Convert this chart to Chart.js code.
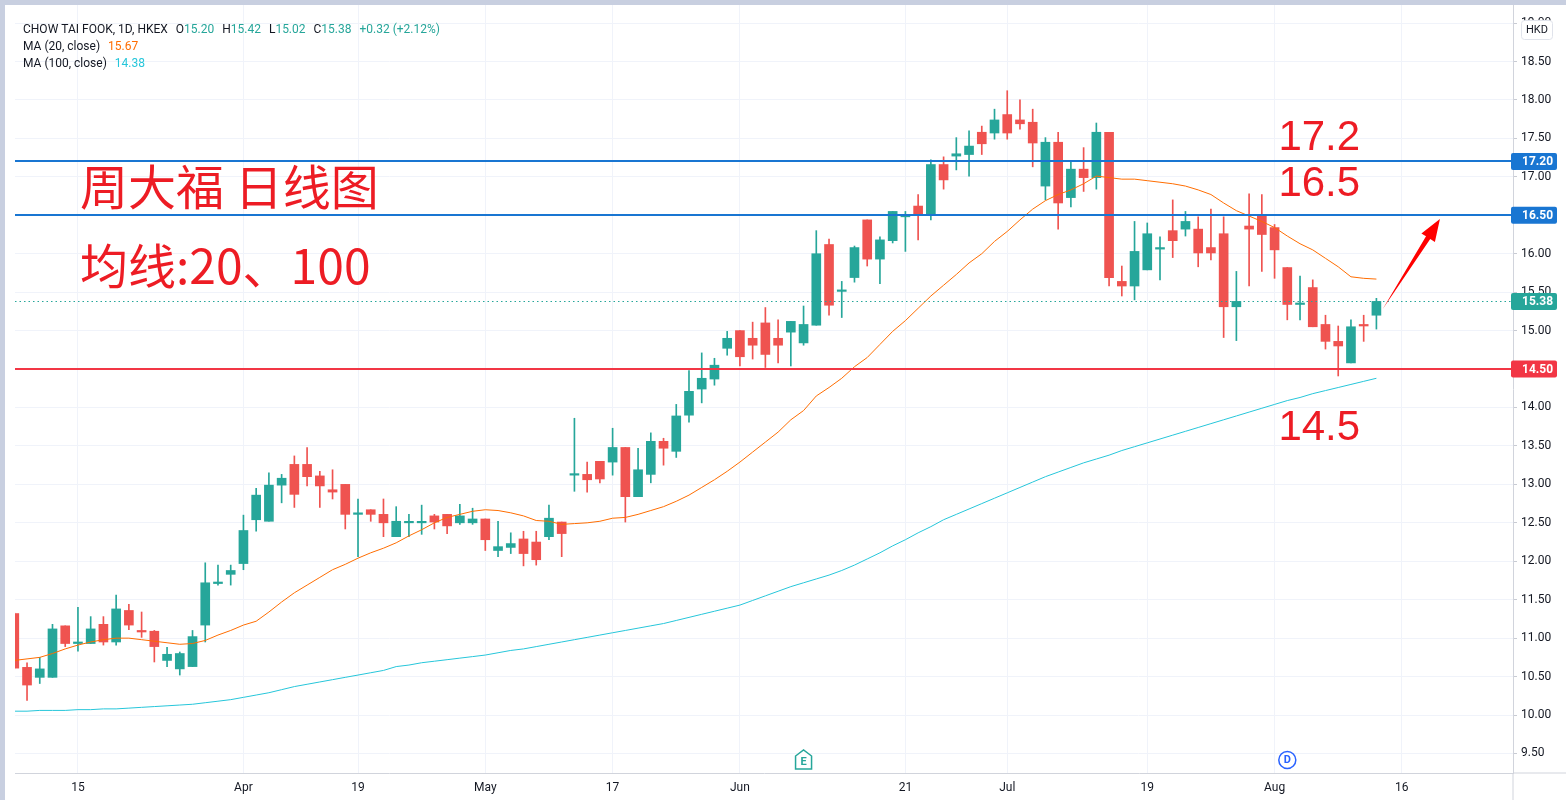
<!DOCTYPE html>
<html>
<head>
<meta charset="utf-8">
<title>CHOW TAI FOOK 1D</title>
<script src="https://cdn.jsdelivr.net/npm/chart.js@4.4.1/dist/chart.umd.min.js"></script>
<style>
  html, body { margin: 0; padding: 0; background: #c8cfe0; }
  #wrap { position: absolute; left: 5px; top: 5px; width: 1561px; height: 795px; background: #fff; }
  canvas { display: block; }
</style>
</head>
<body>
<div id="wrap"><canvas id="chart" width="1561" height="795"></canvas></div>
<script>
// daily candles, 8 Mar - 12 Aug 2021 (one entry per trading day)
const opens = [
  11.32, 10.62, 10.49, 10.49, 11.16, 10.93, 10.93, 11.18, 10.95, 11.36,
  11.10, 11.09, 10.71, 10.60, 10.63, 11.17, 11.71, 11.83, 11.97, 12.54,
  12.52, 12.99, 13.26, 13.26, 13.11, 12.93, 13.00, 12.61, 12.67, 12.61,
  12.32, 12.50, 12.50, 12.59, 12.61, 12.50, 12.50, 12.55, 12.14, 12.18,
  12.29, 12.25, 12.32, 12.51, 13.12, 13.13, 13.30, 13.29, 13.48, 12.84,
  13.13, 13.56, 13.43, 13.90, 14.24, 14.37, 14.77, 15.00, 14.90, 15.10,
  14.90, 14.98, 14.84, 15.07, 16.12, 15.51, 15.69, 16.44, 15.93, 16.17,
  16.48, 16.62, 16.51, 17.16, 17.27, 17.29, 17.58, 17.57, 17.81, 17.74,
  17.71, 16.88, 17.45, 16.73, 17.10, 16.99, 17.58, 15.64, 15.58, 15.79,
  16.06, 16.30, 16.32, 16.32, 16.08, 16.26, 15.31, 16.36, 16.51, 16.34,
  15.82, 15.34, 15.56, 15.08, 14.86, 14.58, 15.08, 15.20
];
const highs = [
  11.33, 10.68, 10.75, 11.18, 11.16, 11.40, 11.28, 11.28, 11.56, 11.44,
  11.34, 11.10, 10.88, 10.82, 11.10, 11.98, 11.95, 11.95, 12.60, 12.95,
  13.15, 13.13, 13.37, 13.48, 13.17, 13.19, 13.00, 12.81, 12.67, 12.81,
  12.71, 12.61, 12.73, 12.61, 12.61, 12.74, 12.69, 12.55, 12.52, 12.37,
  12.39, 12.39, 12.73, 12.51, 13.86, 13.29, 13.30, 13.73, 13.48, 13.47,
  13.67, 13.60, 14.04, 14.48, 14.71, 14.64, 14.99, 15.00, 15.11, 15.30,
  15.14, 15.12, 15.32, 16.30, 16.19, 15.64, 16.10, 16.44, 16.22, 16.55,
  16.55, 16.77, 17.22, 17.26, 17.51, 17.60, 17.66, 17.88, 18.12, 18.00,
  17.88, 17.51, 17.58, 17.19, 17.38, 17.70, 17.58, 15.84, 16.42, 16.40,
  16.22, 16.70, 16.55, 16.48, 16.58, 16.48, 15.77, 16.78, 16.77, 16.38,
  15.82, 15.71, 15.66, 15.20, 15.06, 15.14, 15.20, 15.42
];
const lows = [
  10.60, 10.19, 10.41, 10.49, 10.89, 10.83, 10.93, 10.91, 10.91, 11.11,
  11.01, 10.69, 10.63, 10.52, 10.63, 10.95, 11.69, 11.69, 11.89, 12.39,
  12.52, 12.76, 12.70, 12.98, 12.70, 12.81, 12.42, 12.06, 12.52, 12.32,
  12.32, 12.32, 12.35, 12.42, 12.36, 12.48, 12.48, 12.14, 12.06, 12.10,
  11.94, 11.95, 12.28, 12.06, 12.91, 12.90, 13.02, 13.12, 12.51, 12.84,
  13.02, 13.25, 13.35, 13.81, 14.06, 14.29, 14.68, 14.54, 14.63, 14.52,
  14.58, 14.54, 14.81, 15.07, 15.20, 15.17, 15.63, 15.84, 15.61, 16.14,
  16.03, 16.18, 16.44, 16.84, 17.09, 17.01, 17.29, 17.49, 17.49, 17.62,
  17.13, 16.70, 16.32, 16.61, 16.81, 16.84, 15.58, 15.45, 15.40, 15.79,
  15.66, 15.95, 16.23, 15.83, 15.92, 14.91, 14.87, 15.58, 15.77, 15.68,
  15.14, 15.14, 15.05, 14.76, 14.41, 14.58, 14.86, 15.02
];
const closes = [
  10.61, 10.39, 10.60, 11.12, 10.93, 10.95, 11.12, 10.95, 11.38, 11.17,
  11.08, 10.89, 10.79, 10.80, 11.02, 11.72, 11.73, 11.88, 12.40, 12.86,
  12.99, 13.08, 12.87, 13.10, 12.98, 12.90, 12.61, 12.63, 12.61, 12.50,
  12.52, 12.51, 12.51, 12.51, 12.46, 12.59, 12.55, 12.28, 12.19, 12.23,
  12.10, 12.02, 12.56, 12.36, 13.13, 13.06, 13.07, 13.48, 12.84, 13.19,
  13.56, 13.47, 13.89, 14.21, 14.38, 14.55, 14.90, 14.66, 14.81, 14.69,
  14.81, 15.12, 15.08, 16.00, 15.33, 15.52, 16.08, 15.93, 16.18, 16.55,
  16.51, 16.51, 17.16, 16.96, 17.30, 17.40, 17.43, 17.74, 17.57, 17.69,
  17.44, 17.45, 16.66, 17.10, 16.99, 17.58, 15.69, 15.58, 16.03, 16.26,
  16.08, 16.17, 16.42, 16.01, 16.01, 15.31, 15.38, 16.32, 16.25, 16.05,
  15.34, 15.35, 15.05, 14.86, 14.80, 15.05, 15.06, 15.38
];
const ma20 = [
  10.71, 10.73, 10.75, 10.80, 10.86, 10.91, 10.95, 10.98, 11.00, 11.00,
  10.98, 10.96, 10.94, 10.92, 10.93, 10.97, 11.04, 11.10, 11.17, 11.22,
  11.34, 11.47, 11.59, 11.69, 11.79, 11.89, 11.96, 12.04, 12.11, 12.17,
  12.24, 12.33, 12.41, 12.50, 12.57, 12.61, 12.65, 12.67, 12.66, 12.63,
  12.59, 12.53, 12.52, 12.48, 12.49, 12.50, 12.52, 12.56, 12.57, 12.61,
  12.66, 12.71, 12.78, 12.86, 12.96, 13.06, 13.17, 13.29, 13.42, 13.55,
  13.68, 13.84, 13.96, 14.15, 14.26, 14.38, 14.53, 14.65, 14.82, 14.99,
  15.13, 15.29, 15.45, 15.59, 15.73, 15.88, 16.00, 16.16, 16.29, 16.44,
  16.58, 16.69, 16.77, 16.83, 16.91, 17.01, 16.99, 16.97, 16.97, 16.95,
  16.93, 16.91, 16.88, 16.83, 16.77, 16.66, 16.56, 16.49, 16.42, 16.34,
  16.23, 16.13, 16.05, 15.94, 15.83, 15.70, 15.68, 15.67
];
const ma100 = [
  10.05, 10.05, 10.06, 10.06, 10.06, 10.07, 10.07, 10.08, 10.08, 10.09,
  10.10, 10.11, 10.12, 10.13, 10.14, 10.16, 10.18, 10.20, 10.23, 10.26,
  10.29, 10.33, 10.37, 10.40, 10.43, 10.46, 10.49, 10.52, 10.55, 10.58,
  10.63, 10.65, 10.68, 10.70, 10.72, 10.74, 10.76, 10.78, 10.81, 10.84,
  10.86, 10.89, 10.92, 10.95, 10.98, 11.01, 11.04, 11.07, 11.10, 11.13,
  11.16, 11.19, 11.23, 11.27, 11.31, 11.35, 11.39, 11.43, 11.49, 11.55,
  11.61, 11.67, 11.72, 11.77, 11.82, 11.88, 11.95, 12.03, 12.11, 12.20,
  12.28, 12.37, 12.45, 12.54, 12.61, 12.68, 12.75, 12.82, 12.89, 12.96,
  13.03, 13.10, 13.16, 13.22, 13.28, 13.33, 13.38, 13.44, 13.49, 13.54,
  13.59, 13.64, 13.69, 13.74, 13.79, 13.84, 13.89, 13.94, 13.99, 14.04,
  14.09, 14.13, 14.18, 14.22, 14.26, 14.30, 14.34, 14.38
];

// time axis: bar index of each label
const tickPos = [5, 18, 27, 37, 47, 57, 70, 78, 89, 99, 109];
const tickLabels = ['15', 'Apr', '19', 'May', '17', 'Jun', '21', 'Jul', '19', 'Aug', '16'];
const yTicks = [9.5, 10, 10.5, 11, 11.5, 12, 12.5, 13, 13.5, 14, 14.5, 15, 15.5, 16, 16.5, 17, 17.5, 18, 18.5, 19];

// horizontal levels drawn on the chart
const levels = [17.2, 16.5, 14.5];
const levelColors = ['#1976d2', '#1976d2', '#f23645'];
const levelNotes = ['17.2', '16.5', '14.5'];

const earningsBar = 62;
const dividendBar = 100;

const UP = '#26a69a';
const DOWN = '#ef5350';
const MA20_COLOR = '#ff6d00';
const MA100_COLOR = '#26c6da';
const TEXT = '#131722';
const NOTE_RED = '#ed1c24';
const UI_FONT = 'Roboto, "Liberation Sans", sans-serif';

const last = closes.length - 1;
const candleColors = closes.map((c, i) => c >= opens[i] ? UP : DOWN);
const bodies = closes.map((c, i) => ({ x: i, y: [opens[i], c] }));
const wicks = closes.map((c, i) => ({ x: i, y: [lows[i], highs[i]] }));

function roundRect(ctx, x, y, w, h, r) {
  ctx.beginPath();
  ctx.moveTo(x + r, y);
  ctx.arcTo(x + w, y, x + w, y + h, r);
  ctx.arcTo(x + w, y + h, x, y + h, r);
  ctx.arcTo(x, y + h, x, y, r);
  ctx.arcTo(x, y, x + w, y, r);
  ctx.closePath();
}

const drawings = {
  id: 'drawings',
  afterDatasetsDraw(chart) {
    const { ctx, chartArea: a, scales: { x, y } } = chart;
    ctx.save();
    ctx.beginPath();
    ctx.rect(a.left, a.top, a.right - a.left, a.bottom - a.top);
    ctx.clip();

    // last price
    const py0 = Math.round(y.getPixelForValue(closes[last])) + 0.5;
    ctx.strokeStyle = UP;
    ctx.lineWidth = 1;
    ctx.setLineDash([1.5, 3]);
    ctx.beginPath();
    ctx.moveTo(a.left, py0);
    ctx.lineTo(a.right, py0);
    ctx.stroke();
    ctx.setLineDash([]);

    levels.forEach((v, k) => {
      const py = Math.round(y.getPixelForValue(v));
      ctx.strokeStyle = levelColors[k];
      ctx.lineWidth = 2;
      ctx.beginPath();
      ctx.moveTo(a.left, py);
      ctx.lineTo(a.right, py);
      ctx.stroke();
    });

    // text notes
    ctx.fillStyle = NOTE_RED;
    ctx.textAlign = 'left';
    ctx.textBaseline = 'alphabetic';
    ctx.font = '48px "Noto Sans CJK SC"';
    ctx.fillText('周大福 日线图', x.getPixelForValue(5.16), y.getPixelForValue(16.63));
    ctx.fillText('均线:20、100', x.getPixelForValue(5.16), y.getPixelForValue(15.61));

    ctx.font = '42px "Liberation Sans"';
    const noteBase = [17.35, 16.75, 13.58];
    levelNotes.forEach((t, k) => {
      ctx.fillText(t, x.getPixelForValue(99.3), y.getPixelForValue(noteBase[k]));
    });

    // arrow
    const tx = x.getPixelForValue(107.5), ty = y.getPixelForValue(15.28);
    const hx = x.getPixelForValue(111.99), hy = y.getPixelForValue(16.45);
    const dx = hx - tx, dy = hy - ty, len = Math.hypot(dx, dy);
    const ux = dx / len, uy = dy / len, nx = -uy, ny = ux;
    const bx = hx - ux * 22, by = hy - uy * 22;
    ctx.fillStyle = '#ff0000';
    ctx.beginPath();
    ctx.moveTo(tx, ty);
    ctx.lineTo(bx + nx * 2.5, by + ny * 2.5);
    ctx.lineTo(bx + nx * 8, by + ny * 8);
    ctx.lineTo(hx, hy);
    ctx.lineTo(bx - nx * 8, by - ny * 8);
    ctx.lineTo(bx - nx * 2.5, by - ny * 2.5);
    ctx.closePath();
    ctx.fill();

    // earnings / dividend markers
    const ex = x.getPixelForValue(earningsBar), eb = a.bottom - 4, et = a.bottom - 23;
    ctx.fillStyle = '#fff';
    ctx.strokeStyle = UP;
    ctx.lineWidth = 1.5;
    ctx.beginPath();
    ctx.moveTo(ex - 8, eb);
    ctx.lineTo(ex + 8, eb);
    ctx.lineTo(ex + 8, et + 6);
    ctx.lineTo(ex, et);
    ctx.lineTo(ex - 8, et + 6);
    ctx.closePath();
    ctx.fill();
    ctx.stroke();
    ctx.fillStyle = UP;
    ctx.font = 'bold 11px ' + UI_FONT;
    ctx.textAlign = 'center';
    ctx.textBaseline = 'middle';
    ctx.fillText('E', ex, eb - 7);

    const dxp = x.getPixelForValue(dividendBar), dyp = a.bottom - 13;
    ctx.fillStyle = '#fff';
    ctx.strokeStyle = '#2962ff';
    ctx.beginPath();
    ctx.arc(dxp, dyp, 8.5, 0, Math.PI * 2);
    ctx.fill();
    ctx.stroke();
    ctx.fillStyle = '#2962ff';
    ctx.fillText('D', dxp, dyp + 0.5);
    ctx.restore();
  },
  afterDraw(chart) {
    const { ctx, chartArea: a, scales: { y }, width, height } = chart;
    ctx.save();
    // axis lines running into the corner
    ctx.strokeStyle = '#d1d4dc';
    ctx.lineWidth = 1;
    ctx.beginPath();
    ctx.moveTo(a.right, height);
    ctx.lineTo(a.right, a.bottom);
    ctx.lineTo(width, a.bottom);
    ctx.stroke();

    // price labels on the axis
    const tags = [
      [levels[0], levelColors[0]],
      [levels[1], levelColors[1]],
      [closes[last], UP],
      [levels[2], levelColors[2]]
    ];
    ctx.font = 'bold 12px ' + UI_FONT;
    ctx.textAlign = 'left';
    ctx.textBaseline = 'middle';
    tags.forEach(([v, c]) => {
      const py = y.getPixelForValue(v);
      ctx.fillStyle = c;
      roundRect(ctx, a.right - 2, py - 8.5, 46, 17, 2);
      ctx.fill();
      ctx.fillStyle = '#fff';
      ctx.fillText(v.toFixed(2), a.right + 9, py + 0.5);
    });

    // currency box
    ctx.fillStyle = '#fff';
    ctx.strokeStyle = '#e0e3eb';
    roundRect(ctx, a.right + 8.5, 15.5, 31, 19, 3);
    ctx.fill();
    ctx.stroke();
    ctx.fillStyle = TEXT;
    ctx.font = '11px ' + UI_FONT;
    ctx.textAlign = 'center';
    ctx.fillText('HKD', a.right + 24, 25.5);

    // legend
    ctx.textAlign = 'left';
    ctx.font = '12px ' + UI_FONT;
    let lx = 18;
    const put = (t, c, gap) => {
      ctx.fillStyle = c;
      ctx.fillText(t, lx, 24.5);
      lx += ctx.measureText(t).width + gap;
    };
    const chg = closes[last] - closes[last - 1];
    const pct = chg / closes[last - 1] * 100;
    put('CHOW TAI FOOK, 1D, HKEX', TEXT, 8);
    put('O', TEXT, 0); put(opens[last].toFixed(2), UP, 8);
    put('H', TEXT, 0); put(highs[last].toFixed(2), UP, 8);
    put('L', TEXT, 0); put(lows[last].toFixed(2), UP, 8);
    put('C', TEXT, 0); put(closes[last].toFixed(2), UP, 8);
    put('+' + chg.toFixed(2) + ' (+' + pct.toFixed(2) + '%)', UP, 0);

    ctx.fillStyle = TEXT;
    ctx.fillText('MA (20, close)', 18, 41.5);
    ctx.fillStyle = MA20_COLOR;
    ctx.fillText(ma20[last].toFixed(2), 18 + ctx.measureText('MA (20, close)').width + 8, 41.5);
    ctx.fillStyle = TEXT;
    ctx.fillText('MA (100, close)', 18, 58.5);
    ctx.fillStyle = MA100_COLOR;
    ctx.fillText(ma100[last].toFixed(2), 18 + ctx.measureText('MA (100, close)').width + 8, 58.5);
    ctx.restore();
  }
};

new Chart(document.getElementById('chart'), {
  type: 'bar',
  data: {
    datasets: [
      {
        type: 'line',
        label: 'MA 20',
        data: ma20.map((v, i) => ({ x: i, y: v })),
        borderColor: MA20_COLOR,
        borderWidth: 1,
        pointRadius: 0,
        order: 0
      },
      {
        type: 'line',
        label: 'MA 100',
        data: ma100.map((v, i) => ({ x: i, y: v })),
        borderColor: MA100_COLOR,
        borderWidth: 1,
        pointRadius: 0,
        order: 0
      },
      {
        label: 'body',
        data: bodies,
        backgroundColor: candleColors,
        barThickness: 9,
        minBarLength: 1.5,
        grouped: false,
        order: 1
      },
      {
        label: 'wick',
        data: wicks,
        backgroundColor: candleColors,
        barThickness: 1,
        grouped: false,
        order: 2
      }
    ]
  },
  options: {
    responsive: false,
    animation: false,
    devicePixelRatio: 1,
    layout: { padding: { left: 10, top: 0, right: 0, bottom: 0 } },
    plugins: { legend: { display: false }, tooltip: { enabled: false } },
    scales: {
      x: {
        type: 'linear',
        min: 0.055,
        max: 117.73,
        offset: false,
        grid: { color: '#f0f3fa', offset: false, drawTicks: false },
        border: { color: '#d1d4dc' },
        afterBuildTicks: s => { s.ticks = tickPos.map(v => ({ value: v })); },
        afterFit: s => { s.height = 27; s.paddingLeft = 0; s.paddingRight = 0; },
        ticks: {
          autoSkip: false,
          maxRotation: 0,
          padding: 8,
          color: TEXT,
          font: { size: 12, family: UI_FONT },
          callback: (v, i) => tickLabels[i]
        }
      },
      y: {
        type: 'linear',
        position: 'right',
        min: 9.246,
        max: 19.235,
        grid: { color: '#f0f3fa', tickColor: '#c8cbd3', tickLength: 4 },
        border: { color: '#d1d4dc' },
        afterBuildTicks: s => { s.ticks = yTicks.map(v => ({ value: v })); },
        afterFit: s => { s.width = 53; s.paddingTop = 0; s.paddingBottom = 0; },
        ticks: {
          padding: 4,
          color: TEXT,
          font: { size: 12, family: UI_FONT },
          callback: v => v.toFixed(2)
        }
      }
    }
  },
  plugins: [drawings]
});
</script>
</body>
</html>
